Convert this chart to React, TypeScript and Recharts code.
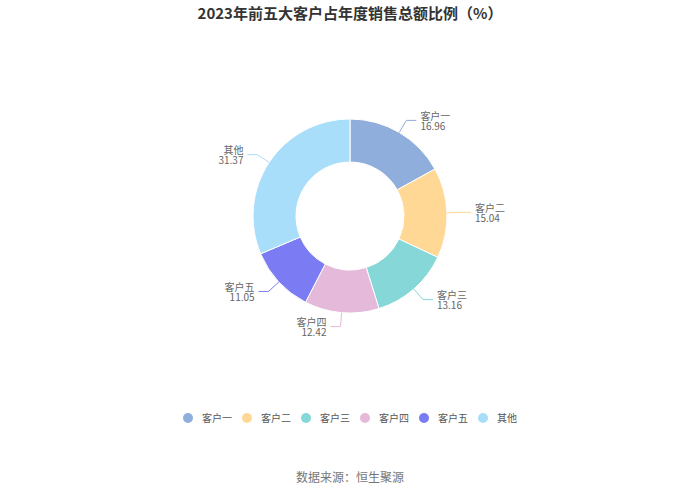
import React from 'react';
import { PieChart, Pie, Cell } from 'recharts';

const customers = ['客户一', '客户二', '客户三', '客户四', '客户五', '其他'];
const shares = [16.96, 15.04, 13.16, 12.42, 11.05, 31.37];
const colors = ['#8FAEDB', '#FFD895', '#86D7D7', '#E5B9D9', '#7B7BF3', '#A8DEF9'];

const data = customers.map((name, i) => ({ name, value: shares[i] }));

const FONT = '"Noto Sans CJK SC", "Noto Sans", sans-serif';
const RAD = Math.PI / 180;

const renderLabel = (props: any) => {
  const { cx, cy, midAngle, outerRadius, index, name, value } = props;
  const sin = Math.sin(-midAngle * RAD);
  const cos = Math.cos(-midAngle * RAD);
  const sx = cx + outerRadius * cos;
  const sy = cy + outerRadius * sin;
  const ex = cx + (outerRadius + 14) * cos;
  const ey = cy + (outerRadius + 14) * sin;
  const right = cos >= 0;
  const hx = ex + (right ? 10 : -10);
  const tx = hx + (right ? 4 : -4);
  const anchor = right ? 'start' : 'end';
  return (
    <g>
      <polyline
        points={`${sx},${sy} ${ex},${ey} ${hx},${ey}`}
        stroke={colors[index]}
        fill="none"
        strokeWidth={1}
      />
      <text x={tx} y={ey - 5} textAnchor={anchor} dominantBaseline="central" fill="#666" fontSize={10} fontFamily={FONT}>
        {name}
      </text>
      <text x={tx} y={ey + 5} textAnchor={anchor} dominantBaseline="central" fill="#666" fontSize={10} fontFamily={FONT}>
        {value.toFixed(2)}
      </text>
    </g>
  );
};

export default function App() {
  return (
    <div style={{ position: 'absolute', left: 0, top: 0, width: 700, height: 494, background: '#fff' }}>
      <div style={{ position: 'absolute', top: 2, width: 700, textAlign: 'center', fontFamily: FONT, fontSize: 15, fontWeight: 'bold', color: '#333' }}>
        2023年前五大客户占年度销售总额比例（%）
      </div>
      <PieChart width={700} height={494} margin={{ top: 0, right: 0, bottom: 0, left: 0 }}>
        <Pie
          data={data}
          dataKey="value"
          nameKey="name"
          cx={350}
          cy={216}
          innerRadius={54}
          outerRadius={97}
          startAngle={90}
          endAngle={-270}
          stroke="#fff"
          strokeWidth={1}
          label={renderLabel}
          labelLine={false}
          isAnimationActive={false}
        >
          {data.map((d, i) => (
            <Cell key={d.name} fill={colors[i]} />
          ))}
        </Pie>
      </PieChart>
      <div style={{ position: 'absolute', top: 410, width: 700, display: 'flex', justifyContent: 'center', fontFamily: FONT, fontSize: 10, color: '#555', lineHeight: '16px' }}>
        {customers.map((name, i) => (
          <div key={name} style={{ display: 'flex', alignItems: 'center', marginRight: i < customers.length - 1 ? 10 : 0 }}>
            <span style={{ width: 10, height: 10, borderRadius: 5, background: colors[i], display: 'inline-block', marginRight: 9 }} />
            <span>{name}</span>
          </div>
        ))}
      </div>
      <div style={{ position: 'absolute', top: 468, width: 700, textAlign: 'center', fontFamily: FONT, fontSize: 12, color: '#777' }}>
        数据来源：恒生聚源
      </div>
    </div>
  );
}
